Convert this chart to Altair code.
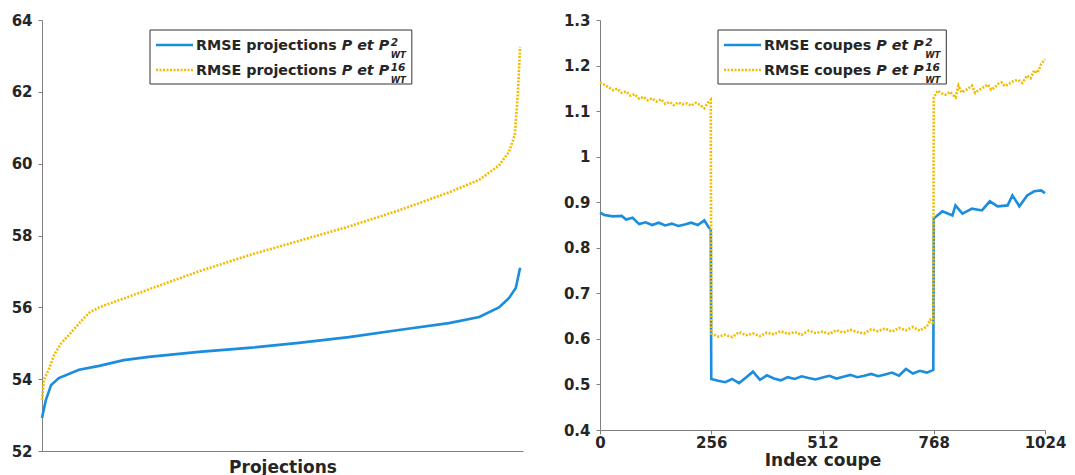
import altair as alt
import pandas as pd

# ---------------- data ----------------
# Left panel: RMSE per projection (sorted), x = projection rank (0..100 scale)
proj_x_p2 = [0, 0.8, 1.9, 3.5, 7.7, 11.9, 17.0, 22.2, 32.6, 43.0, 53.4, 63.8,
             74.2, 84.6, 90.9, 95.0, 97.1, 98.5, 99.4]
rmse_proj_p2 = [52.92, 53.42, 53.84, 54.03, 54.26, 54.37, 54.53, 54.62, 54.76,
                54.87, 55.01, 55.17, 55.37, 55.56, 55.73, 56.0, 56.26, 56.54, 57.1]

proj_x_p16 = [0, 0.4, 1.5, 2.5, 4.0, 5.6, 7.7, 9.8, 11.9, 18.1, 22.2, 32.6, 43.0,
              53.4, 63.8, 74.2, 84.6, 90.9, 95.0, 97.1, 98.3, 98.9, 99.4]
rmse_proj_p16 = [53.42, 53.98, 54.3, 54.67, 55.0, 55.23, 55.55, 55.85, 56.0, 56.3,
                 56.5, 57.0, 57.45, 57.85, 58.25, 58.7, 59.2, 59.55, 59.95, 60.33,
                 60.8, 61.9, 63.25]

# Right panel: RMSE per slice index
coupe_x_p2 = [0, 10, 30, 50, 60, 75, 90, 105, 120, 135, 150, 165, 180, 195, 210,
              225, 240, 250, 255,
              256, 272, 288, 304, 320, 336, 352, 368, 384, 400, 416, 432, 448, 464,
              480, 496, 512, 528, 544, 560, 576, 592, 608, 624, 640, 656, 672, 688,
              704, 720, 736, 752, 767,
              768, 788, 811, 818, 834, 856, 879, 897, 915, 938, 949, 965, 983, 999,
              1015, 1024]
rmse_coupe_p2 = [0.877, 0.872, 0.869, 0.870, 0.862, 0.866, 0.852, 0.856, 0.850,
                 0.855, 0.849, 0.853, 0.848, 0.851, 0.855, 0.850, 0.860, 0.845, 0.840,
                 0.512, 0.508, 0.505, 0.512, 0.503, 0.515, 0.528, 0.510, 0.520, 0.513,
                 0.509, 0.516, 0.512, 0.518, 0.514, 0.511, 0.515, 0.519, 0.513, 0.517,
                 0.521, 0.516, 0.519, 0.523, 0.518, 0.522, 0.526, 0.519, 0.534, 0.524,
                 0.530, 0.526, 0.532,
                 0.864, 0.880, 0.871, 0.893, 0.875, 0.886, 0.882, 0.902, 0.891, 0.893,
                 0.915, 0.891, 0.915, 0.924, 0.926, 0.920]

coupe_x_p16 = [0, 10, 20, 30, 40, 50, 60, 70, 80, 90, 100, 110, 120, 130, 140, 150,
               160, 170, 180, 190, 200, 210, 220, 230, 240, 248, 255,
               256, 272, 288, 304, 320, 336, 352, 368, 384, 400, 416, 432, 448, 464,
               480, 496, 512, 528, 544, 560, 576, 592, 608, 624, 640, 656, 672, 688,
               704, 720, 736, 752, 760, 767,
               768, 777, 786, 795, 806, 818, 825, 832, 840, 848, 856, 863, 870, 882,
               893, 900, 908, 916, 924, 931, 938, 950, 961, 972, 983, 991, 999, 1007,
               1015, 1024]
rmse_coupe_p16 = [1.163, 1.158, 1.152, 1.146, 1.149, 1.140, 1.143, 1.134, 1.137,
                  1.127, 1.131, 1.124, 1.128, 1.121, 1.126, 1.116, 1.120, 1.113, 1.119,
                  1.115, 1.117, 1.112, 1.118, 1.114, 1.106, 1.118, 1.125,
                  0.612, 0.605, 0.609, 0.604, 0.615, 0.608, 0.612, 0.606, 0.614, 0.610,
                  0.617, 0.611, 0.615, 0.609, 0.618, 0.613, 0.616, 0.611, 0.619, 0.614,
                  0.620, 0.615, 0.612, 0.621, 0.617, 0.623, 0.616, 0.624, 0.619, 0.626,
                  0.618, 0.627, 0.642, 0.632,
                  1.130, 1.145, 1.139, 1.136, 1.142, 1.130, 1.156, 1.141, 1.145, 1.150,
                  1.156, 1.140, 1.145, 1.152, 1.158, 1.147, 1.152, 1.160, 1.163, 1.155,
                  1.158, 1.165, 1.169, 1.162, 1.178, 1.172, 1.189, 1.184, 1.203, 1.214]

left_yticks = [52, 54, 56, 58, 60, 62, 64]
right_xticks = [0, 256, 512, 768, 1024]
right_yticks = [0.4, 0.5, 0.6, 0.7, 0.8, 0.9, 1.0, 1.1, 1.2, 1.3]

legend_left = ["RMSE projections ", "RMSE projections "]
legend_right = ["RMSE coupes ", "RMSE coupes "]
legend_sup = ["2", "16"]

# ---------------- styling ----------------
BLUE = "#1b8ddd"
GOLD = "#f3bb00"
FONT = "DejaVu Sans"
TXT = "#262626"
FS = 14.3

# approximate DejaVu Sans Bold advance widths (em)
W = {"R": .770, "M": .995, "S": .720, "E": .683, " ": .348, "p": .716, "r": .493,
     "o": .687, "j": .343, "e": .678, "c": .593, "t": .478, "i": .343, "n": .712,
     "s": .595, "u": .712, "P": .733, "W": 1.103, "T": .682, "2": .696, "1": .696,
     "6": .696}


def tw(s, size):
    return sum(W.get(ch, .65) for ch in s) * size


one = pd.DataFrame({"k": [0]})


def legend(x0, y0, labels):
    layers = []
    row_y = [y0 + 20, y0 + 45]
    ends = []
    parts = []
    for r in range(2):
        tx = x0 + 46
        by = row_y[r]
        w1 = tw(labels[r], FS)
        w2 = tw("P et P", FS)
        sx = tx + w1 + w2 + 1.5
        ends.append(sx + max(tw(legend_sup[r], 10.5), tw("WT", 8.5)))
        parts.append((tx, by, w1, sx, r))
    bw = max(ends) - x0 + 6
    box = alt.Chart(one).mark_rect(fill="white", stroke="#333333", strokeWidth=1).encode(
        x=alt.value(x0), x2=alt.value(x0 + bw), y=alt.value(y0), y2=alt.value(y0 + 54))
    layers.append(box)
    for (tx, by, w1, sx, r) in parts:
        color = BLUE if r == 0 else GOLD
        rk = dict(color=color, strokeWidth=2.6)
        if r == 1:
            rk["strokeDash"] = [2, 1.5]
        layers.append(alt.Chart(one).mark_rule(**rk).encode(
            x=alt.value(x0 + 6), x2=alt.value(x0 + 43), y=alt.value(by - 5)))
        common = dict(font=FONT, fontWeight="bold", color=TXT, align="left",
                      baseline="alphabetic")
        layers.append(alt.Chart(one).mark_text(text=labels[r], fontSize=FS, **common).encode(
            x=alt.value(tx), y=alt.value(by)))
        layers.append(alt.Chart(one).mark_text(text="P et P", fontSize=FS,
                                               fontStyle="italic", **common).encode(
            x=alt.value(tx + w1), y=alt.value(by)))
        layers.append(alt.Chart(one).mark_text(text=legend_sup[r], fontSize=10.5,
                                               fontStyle="italic", **common).encode(
            x=alt.value(sx), y=alt.value(by - 4.5)))
        layers.append(alt.Chart(one).mark_text(text="WT", fontSize=8.5,
                                               fontStyle="italic", **common).encode(
            x=alt.value(sx), y=alt.value(by + 8)))
    return layers


def panel(xs1, ys1, xs2, ys2, xenc, yenc, leg_layers, w, h):
    d1 = pd.DataFrame({"x": xs1, "y": ys1})
    d2 = pd.DataFrame({"x": xs2, "y": ys2})
    l1 = alt.Chart(d1).mark_line(color=BLUE, strokeWidth=2.6).encode(x=xenc, y=yenc)
    l2 = alt.Chart(d2).mark_line(color=GOLD, strokeWidth=2.6, strokeDash=[2, 1.5]).encode(
        x=xenc, y=yenc)
    return alt.layer(l1, l2, *leg_layers).properties(width=w, height=h)


left_x = alt.X("x:Q", scale=alt.Scale(domain=[0, 100], nice=False, zero=False),
               axis=alt.Axis(title="Projections", labels=False, ticks=False,
                             titlePadding=8))
left_y = alt.Y("y:Q", scale=alt.Scale(domain=[52, 64], nice=False, zero=False),
               axis=alt.Axis(title=None, values=left_yticks, format="d"))

right_x = alt.X("x:Q", scale=alt.Scale(domain=[0, 1024], nice=False, zero=False),
                axis=alt.Axis(title="Index coupe", values=right_xticks, format="d",
                              labelFlush=False, labelPadding=1, titlePadding=2))
right_y = alt.Y("y:Q", scale=alt.Scale(domain=[0.4, 1.3], nice=False, zero=False),
                axis=alt.Axis(title=None, values=right_yticks, format=".1~f"))

left = panel(proj_x_p2, rmse_proj_p2, proj_x_p16, rmse_proj_p16, left_x, left_y,
             legend(108, 10, legend_left), 481, 431)
right = panel(coupe_x_p2, rmse_coupe_p2, coupe_x_p16, rmse_coupe_p16, right_x, right_y,
              legend(118, 10, legend_right), 445, 410)

chart = alt.hconcat(left, right, spacing=37).properties(
    padding={"left": 3, "top": 5, "right": 0, "bottom": 0}
).configure_view(stroke=None).configure_axis(
    labelFont=FONT, labelFontWeight="bold", labelFontSize=15, labelColor=TXT,
    titleFont=FONT, titleFontWeight="bold", titleFontSize=17, titleColor=TXT,
    domainColor="#7f7f7f", tickColor="#7f7f7f", domainWidth=1, tickWidth=1,
    tickSize=4, labelPadding=6, grid=False
)

chart.save("out.html", embed_options={"renderer": "svg", "actions": False})
